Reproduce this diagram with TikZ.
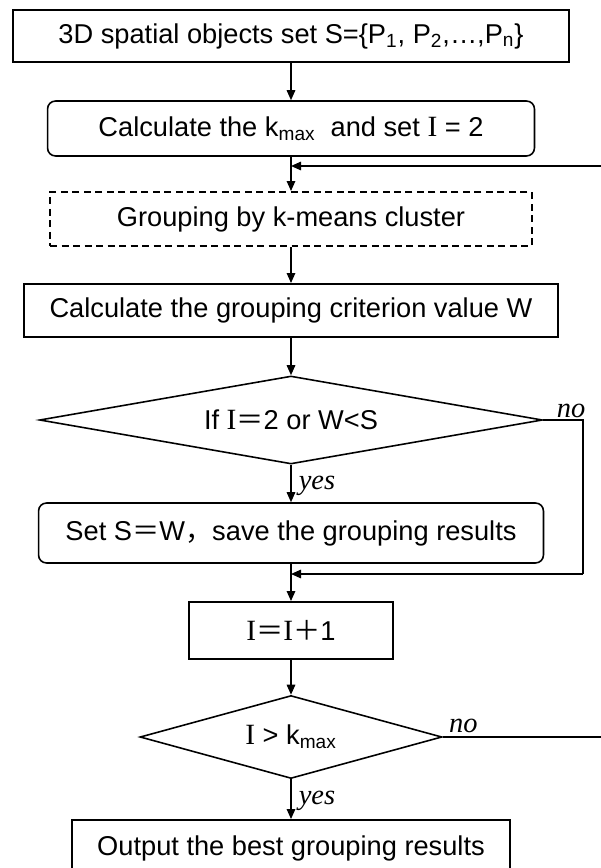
\documentclass[tikz,border=0pt]{standalone}
\usepackage{fontspec}
\setmainfont{Liberation Sans}
\newfontfamily\serif{Liberation Serif}[Scale=1.08]
\newfontfamily\cjk{Noto Sans CJK SC}
\usetikzlibrary{shapes.geometric,arrows.meta}
\tikzstyle{box} = [draw,line width=1.1pt,inner sep=0]
\tikzstyle{rbox} = [draw,line width=0.9pt,rounded corners=0.16cm,inner sep=0]
\tikzstyle{dbox} = [draw,line width=1.1pt,dash pattern=on 0.14cm off 0.09cm,inner sep=0]
\tikzstyle{test} = [draw,diamond,line width=0.9pt,inner sep=0]
\tikzstyle{flow} = [draw,line width=0.85pt]
\tikzstyle{ans} = [font=\fontsize{15}{18}\serif\itshape,inner sep=4pt]

\begin{document}
\begin{tikzpicture}[x=0.02cm,y=-0.02cm,font=\fontsize{15.5}{18}\selectfont,
    >={Triangle[length=0.2cm,width=0.17cm]}]
    \clip (0,0) rectangle (601,868);

    \node[box, minimum width=11.12cm, minimum height=1.04cm] (S) at (291,36)
        {3D spatial objects set S=\{P\textsubscript{1}, P\textsubscript{2},\ldots,P\textsubscript{n}\}};
    \node[rbox, minimum width=9.74cm, minimum height=1.1cm] (K) at (291,128.5)
        {Calculate the k\textsubscript{max}\ \ and set {\serif I} = 2};
    \node[dbox, minimum width=9.64cm, minimum height=1.08cm] (G) at (291,219)
        {Grouping by k-means cluster};
    \node[box, minimum width=10.7cm, minimum height=1.06cm] (W) at (291,310.5)
        {Calculate the grouping criterion value W};
    \node[test, aspect=5.7, minimum width=10.06cm, minimum height=1.76cm] (T1) at (291,420)
        {If {\serif I}{\cjk ＝}2 or W<S};
    \node[rbox, minimum width=10.1cm, minimum height=1.2cm] (R) at (291,533)
        {Set S{\cjk ＝}W{\cjk ，}save the grouping results};
    \node[box, minimum width=4.08cm, minimum height=1.14cm] (I) at (291,630.5)
        {{\serif I}{\cjk ＝}{\serif I}{\cjk ＋}1};
    \node[test, aspect=3.6, minimum width=6.04cm, minimum height=1.66cm] (T2) at (291,737)
        {{\serif I} > k\textsubscript{max}};
    \node[box, minimum width=8.76cm, minimum height=1.12cm] (O) at (291,848)
        {Output the best grouping results};

    \coordinate (ret1) at (601,166);
    \coordinate (m1) at (291,166);
    \coordinate (turn) at (583,420);
    \coordinate (ret2) at (583,574);
    \coordinate (m2) at (291,574);
    \coordinate (exit) at (601,737);

    \draw[->, flow] (S) -- (K);
    \draw[->, flow] (K) -- (G);
    \draw[->, flow] (ret1) -- (m1);
    \draw[->, flow] (G) -- (W);
    \draw[->, flow] (W) -- (T1);
    \draw[->, flow] (T1) -- node[ans, right, pos=0.55] {yes} (R);
    \draw[flow] (T1) -- node[ans, above, pos=0.7, inner sep=1pt] {no} (turn) -- (ret2);
    \draw[->, flow] (ret2) -- (m2);
    \draw[->, flow] (R) -- (I);
    \draw[->, flow] (I) -- (T2);
    \draw[->, flow] (T2) -- node[ans, right, pos=0.55] {yes} (O);
    \draw[flow] (T2) -- node[ans, above, pos=0.13, inner sep=2pt] {no} (exit);

\end{tikzpicture}
\end{document}
